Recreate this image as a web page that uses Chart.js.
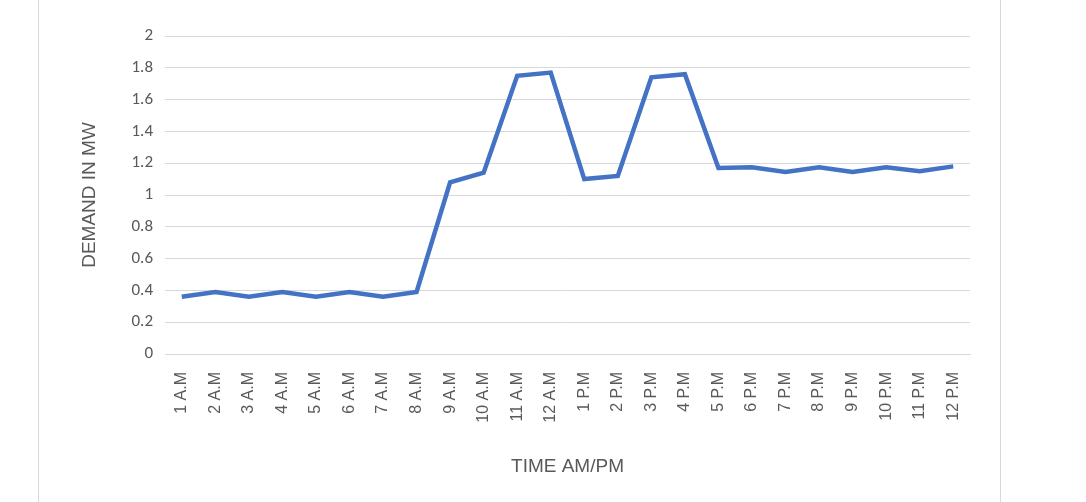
<!DOCTYPE html>
<html><head><meta charset="utf-8">
<script src="https://cdn.jsdelivr.net/npm/chart.js@4"></script>
<style>html,body{margin:0;padding:0;background:#fff}#w{width:1086px;height:502px}</style>
</head><body><div id="w"><canvas id="c"></canvas></div>
<script>
const categories=["1 A.M","2 A.M","3 A.M","4 A.M","5 A.M","6 A.M","7 A.M","8 A.M","9 A.M","10 A.M","11 A.M","12 A.M","1 P.M","2 P.M","3 P.M","4 P.M","5 P.M","6 P.M","7 P.M","8 P.M","9 P.M","10 P.M","11 P.M","12 P.M"];
const demand=[0.36,0.39,0.36,0.39,0.36,0.39,0.36,0.39,1.08,1.14,1.75,1.77,1.10,1.12,1.74,1.76,1.17,1.175,1.145,1.175,1.145,1.175,1.15,1.18];
const borders={id:'b',beforeDraw(c){const x=c.ctx;x.save();x.strokeStyle='#d9d9d9';x.lineWidth=1;[38.5,1000.5].forEach(p=>{x.beginPath();x.moveTo(p,0);x.lineTo(p,502);x.stroke();});x.restore();}};
new Chart(document.getElementById('c'),{type:'line',
data:{labels:categories,datasets:[{data:demand,borderColor:'#4472c4',borderWidth:4.5,pointRadius:0,tension:0,borderJoinStyle:'miter'}]},
options:{responsive:true,maintainAspectRatio:false,animation:false,
layout:{padding:{left:74,right:116,top:36,bottom:20}},
plugins:{legend:{display:false},tooltip:{enabled:false}},
scales:{
y:{min:0,max:2,ticks:{stepSize:0.2,color:'#595959',font:{family:'Calibri, Liberation Sans, sans-serif',size:17},padding:12,callback:v=>String(Math.round(v*10)/10)},
grid:{color:'#d9d9d9',drawTicks:false},border:{display:false},
title:{display:true,text:'DEMAND IN MW',color:'#595959',font:{family:'Liberation Sans, sans-serif',size:19}},
afterFit(s){s.width=91;}},
x:{offset:true,ticks:{color:'#595959',maxRotation:90,minRotation:90,font:{family:'Liberation Sans, sans-serif',size:16},padding:10},
grid:{display:false},border:{color:'#d9d9d9'},
title:{display:true,text:'TIME AM/PM',color:'#595959',font:{family:'Liberation Sans, sans-serif',size:19}},
afterFit(s){s.height=128;}}
}},plugins:[borders]});
</script></body></html>
